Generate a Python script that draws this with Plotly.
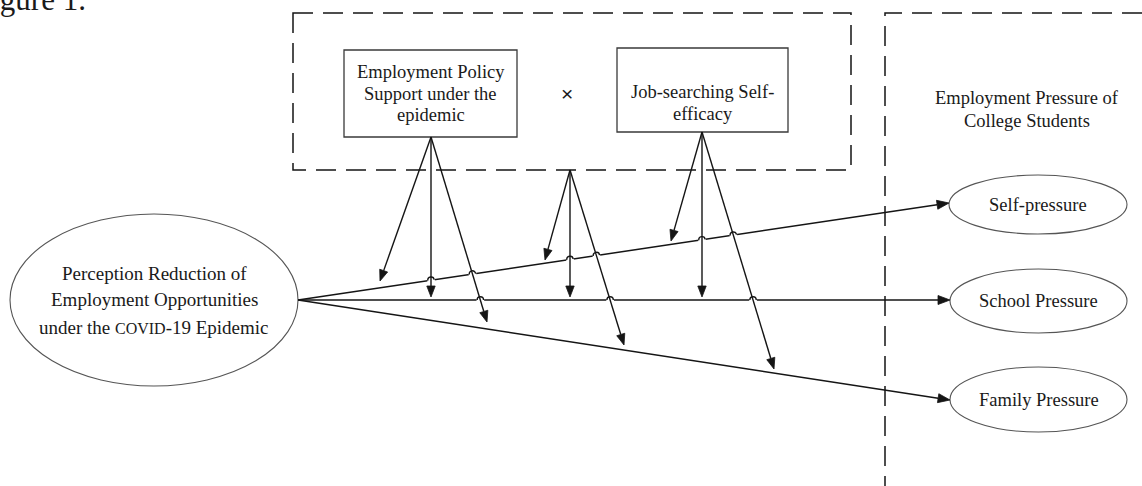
import math
import plotly.graph_objects as go

W, H = 1142, 486

# ---------------- data (diagram content) ----------------
figure_caption = "Figure 1."

source_lines = ["Perception Reduction of",
                "Employment Opportunities",
                "under the <span style='font-size:16px'>COVID</span>-19 Epidemic"]
source_ellipse = [10, 214, 298, 386]          # x0, y0, x1, y1
source_text_y = [273, 299, 327]
source_point = [298, 300]

outcome_header = ["Employment Pressure of", "College Students"]
outcome_header_y = [98, 121]
outcome_labels = ["Self-pressure", "School Pressure", "Family Pressure"]
outcome_x0 = [949, 950, 950]
outcome_x1 = [1127, 1127, 1127]
outcome_y0 = [175, 269, 367]
outcome_y1 = [234, 333, 432]
outcome_tip_x = [949, 950, 950]
outcome_tip_y = [203, 300, 400]

moderator_labels = [["Employment Policy", "Support under the", "epidemic"],
                    ["Job-searching Self-", "efficacy"]]
moderator_x0 = [344, 617]
moderator_x1 = [517, 788]
moderator_y0 = [50, 48]
moderator_y1 = [137, 132]
moderator_text_y = [[72, 94, 115], [92, 114]]
interaction_symbol = "×"
interaction_xy = [567, 93]

moderator_group_box = [293, 13, 851, 170]
outcome_group_left = 885
outcome_group_top = 13

apex_x = [431, 570, 702]
apex_y = [137, 170, 132]
tip_x = [[380, 431, 487], [545, 570, 624], [671, 702, 774]]
tip_y = [[281, 297, 322], [260, 297, 345], [241, 297, 369]]

# ---------------- helpers ----------------
LINE = "#151515"
TEXT = "#1a1a1a"
FONT = "Liberation Serif, Times New Roman, serif"
DASH = "20px,10px"

shapes = []


def seg(x0, y0, x1, y1, color=LINE, width=1.4, dash=None):
    d = dict(type="line", xref="x", yref="y", x0=x0, y0=y0, x1=x1, y1=y1,
             line=dict(color=color, width=width), layer="above")
    if dash:
        d["line"]["dash"] = dash
    shapes.append(d)


def head(sx, sy, tx, ty, L=11, w=4.2):
    dx, dy = tx - sx, ty - sy
    n = math.hypot(dx, dy)
    ux, uy = dx / n, dy / n
    bx, by = tx - L * ux, ty - L * uy
    px, py = -uy, ux
    path = (f"M {tx},{ty} L {bx + w * px},{by + w * py} "
            f"L {bx - w * px},{by - w * py} Z")
    shapes.append(dict(type="path", xref="x", yref="y", path=path,
                       fillcolor=LINE, line=dict(color=LINE, width=0.8),
                       layer="above"))
    return bx, by


def arrow(sx, sy, tx, ty, L=11, w=4.2, width=1.4):
    bx, by = head(sx, sy, tx, ty, L, w)
    seg(sx, sy, bx, by, width=width)


def intersect(a, b, c, d):
    x1, y1 = a; x2, y2 = b; x3, y3 = c; x4, y4 = d
    den = (x1 - x2) * (y3 - y4) - (y1 - y2) * (x3 - x4)
    if abs(den) < 1e-9:
        return None
    s = ((x1 - x3) * (y3 - y4) - (y1 - y3) * (x3 - x4)) / den
    t = ((x1 - x3) * (y1 - y2) - (y1 - y3) * (x1 - x2)) / den
    return s, t, (x1 + s * (x2 - x1), y1 + s * (y2 - y1))


# ---------------- figure ----------------
fig = go.Figure()
fig.add_trace(go.Scatter(x=[0, W], y=[0, H], mode="markers",
                         marker=dict(opacity=0), hoverinfo="skip",
                         showlegend=False))

# dashed grouping frames
gx0, gy0, gx1, gy1 = moderator_group_box
shapes.append(dict(type="rect", xref="x", yref="y", x0=gx0, y0=gy0, x1=gx1, y1=gy1,
                   line=dict(color=LINE, width=1.5, dash=DASH), layer="above"))
shapes.append(dict(type="path", xref="x", yref="y",
                   path=f"M {outcome_group_left},{H + 10} L {outcome_group_left},{outcome_group_top} L {W + 10},{outcome_group_top}",
                   line=dict(color=LINE, width=1.5, dash=DASH), layer="above"))

# ellipses
x0, y0, x1, y1 = source_ellipse
shapes.append(dict(type="circle", xref="x", yref="y", x0=x0, y0=y0, x1=x1, y1=y1,
                   line=dict(color="#555555", width=1.1), layer="above"))
for i in range(3):
    shapes.append(dict(type="circle", xref="x", yref="y",
                       x0=outcome_x0[i], y0=outcome_y0[i], x1=outcome_x1[i], y1=outcome_y1[i],
                       line=dict(color="#555555", width=1.1), layer="above"))

# moderator boxes
for i in range(2):
    shapes.append(dict(type="rect", xref="x", yref="y",
                       x0=moderator_x0[i], y0=moderator_y0[i],
                       x1=moderator_x1[i], y1=moderator_y1[i],
                       line=dict(color="#3a3a3a", width=1.3), layer="above"))

# main paths source -> outcomes
sx, sy = source_point
main_segments = []
for i in range(3):
    tx, ty = outcome_tip_x[i], outcome_tip_y[i]
    arrow(sx, sy, tx, ty, L=12, w=4.5, width=1.5)
    main_segments.append(((sx, sy), (tx, ty)))

# line hops where moderating arrows cross the upper two paths
r = 3.2
for a in range(3):
    for k in range(3):
        A = (apex_x[a], apex_y[a])
        T = (tip_x[a][k], tip_y[a][k])
        for m in range(2):
            P, Q = main_segments[m]
            res = intersect(A, T, P, Q)
            if res is None:
                continue
            s, t, (ix, iy) = res
            if 0.02 < s < 0.96 and 0 < t < 1:
                dx, dy = Q[0] - P[0], Q[1] - P[1]
                n = math.hypot(dx, dy)
                ux, uy = dx / n, dy / n
                nx, ny = uy, -ux  # points upward on screen
                seg(ix - (r + 0.6) * ux, iy - (r + 0.6) * uy,
                    ix + (r + 0.6) * ux, iy + (r + 0.6) * uy,
                    color="white", width=3.2)
                p0 = (ix - r * ux, iy - r * uy)
                p3 = (ix + r * ux, iy + r * uy)
                kk = 1.33 * r
                p1 = (p0[0] + kk * nx, p0[1] + kk * ny)
                p2 = (p3[0] + kk * nx, p3[1] + kk * ny)
                shapes.append(dict(type="path", xref="x", yref="y",
                                   path=f"M {p0[0]},{p0[1]} C {p1[0]},{p1[1]} {p2[0]},{p2[1]} {p3[0]},{p3[1]}",
                                   line=dict(color=LINE, width=1.4), layer="above"))

# moderating arrows
for a in range(3):
    for k in range(3):
        arrow(apex_x[a], apex_y[a], tip_x[a][k], tip_y[a][k], L=11, w=4.2, width=1.4)

# ---------------- text ----------------
ann = []


def label(x, y, text, size=18.5, xanchor="center", yanchor="middle", family=FONT):
    ann.append(dict(x=x, y=y, xref="x", yref="y", text=text, showarrow=False,
                    xanchor=xanchor, yanchor=yanchor,
                    font=dict(family=family, size=size, color=TEXT)))


label(88, 19, figure_caption, size=31, xanchor="right", yanchor="bottom")

scx = (source_ellipse[0] + source_ellipse[2]) / 2
for txt, yy in zip(source_lines, source_text_y):
    label(scx, yy, txt, size=19)

for i in range(2):
    cx = (moderator_x0[i] + moderator_x1[i]) / 2
    for txt, yy in zip(moderator_labels[i], moderator_text_y[i]):
        label(cx, yy, txt, size=18.5)

label(interaction_xy[0], interaction_xy[1], interaction_symbol, size=21,
      family="Liberation Sans, Arial, sans-serif")

for txt, yy in zip(outcome_header, outcome_header_y):
    label(1027, yy, txt, size=18.5)

for i in range(3):
    cx = (outcome_x0[i] + outcome_x1[i]) / 2
    cy = (outcome_y0[i] + outcome_y1[i]) / 2
    label(cx, cy, outcome_labels[i], size=18.5)

fig.update_layout(
    width=W, height=H,
    margin=dict(l=0, r=0, t=0, b=0),
    paper_bgcolor="white", plot_bgcolor="white",
    xaxis=dict(range=[0, W], visible=False, fixedrange=True),
    yaxis=dict(range=[H, 0], visible=False, fixedrange=True),
    shapes=shapes, annotations=ann, showlegend=False,
)

fig.write_html("out.html",
               config={"displayModeBar": False, "staticPlot": True},
               post_script="document.body.style.margin='0';document.body.style.overflow='hidden';")
